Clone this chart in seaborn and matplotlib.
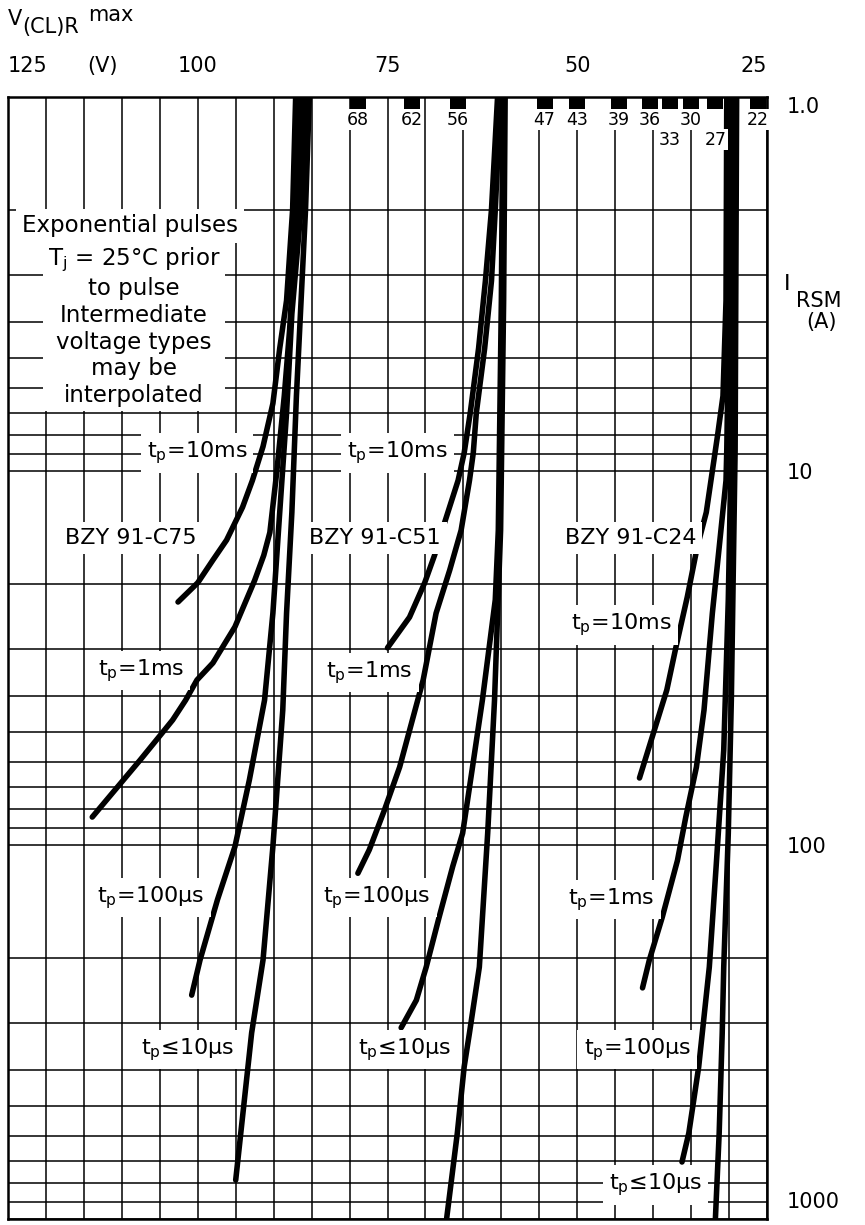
import numpy as np
import pandas as pd
import matplotlib
matplotlib.use("Agg")
import matplotlib.pyplot as plt
import seaborn as sns
from matplotlib.ticker import FixedLocator, FixedFormatter, LogLocator, NullFormatter
from matplotlib.transforms import ScaledTranslation

# ---------------- data (V(CL)R max in V, I_RSM in A) ----------------
# BZY91-C75
c75_10ms_v = [87.1, 87.5, 88.3, 89.2, 90.1, 91.4, 92.8, 94.1, 96.2, 98.0, 100.0, 102.6]
c75_10ms_i = [1.0, 2.0, 3.5, 4.7, 6.6, 8.6, 10.6, 12.5, 15.3, 17.3, 19.9, 22.4]
c75_1ms_v = [86.5, 87.0, 87.9, 88.6, 89.6, 90.5, 91.3, 92.5, 95.1, 98.0, 100.1, 101.6,
             103.3, 104.7, 107.6, 113.9]
c75_1ms_i = [1.0, 2.0, 4.2, 6.3, 10.1, 14.6, 16.8, 19.6, 26.1, 32.6, 36.2, 41.0,
             46.3, 50.2, 59.3, 84.2]
c75_100us_v = [85.9, 86.4, 87.6, 88.3, 89.2, 90.1, 91.2, 93.2, 95.1, 97.4, 99.7, 100.8]
c75_100us_i = [1.0, 2.0, 3.8, 7.0, 12.9, 24.0, 41.0, 67.0, 101, 140, 203, 252]
c75_10us_v = [85.3, 85.8, 87.0, 87.6, 88.3, 88.8, 90.1, 91.4, 92.9, 94.0, 95.0]
c75_10us_i = [1.0, 2.0, 6.3, 12.9, 24.0, 43.6, 101, 203, 318, 511, 787]

# BZY91-C51
c51_10ms_v = [60.5, 61.3, 62.1, 63.0, 64.1, 64.9, 65.7, 67.8, 68.8, 70.1, 72.1, 75.0]
c51_10ms_i = [1.0, 2.0, 3.1, 4.7, 7.0, 8.95, 10.6, 14.4, 16.8, 19.9, 24.6, 29.7]
c51_1ms_v = [60.1, 60.8, 61.3, 62.2, 63.3, 63.7, 64.2, 65.3, 66.8, 68.6, 70.3, 73.4,
             75.4, 77.4, 78.9]
c51_1ms_i = [1.0, 2.0, 3.1, 4.7, 7.0, 8.95, 10.6, 14.4, 18.4, 24.0, 36.2, 61.9,
             80.6, 103, 119]
c51_100us_v = [59.8, 60.0, 60.4, 60.8, 62.5, 63.8, 65.1, 66.4, 68.2, 69.9, 71.2, 73.2]
c51_100us_i = [1.0, 3.5, 14.4, 22.1, 41.0, 61.9, 93.0, 114, 156, 212, 260, 308]
c51_10us_v = [59.5, 59.7, 60.1, 60.9, 61.8, 62.9, 64.2, 64.9, 65.8, 67.2]
c51_10us_i = [1.0, 3.5, 14.4, 41.0, 93.0, 212, 318, 392, 589, 994]

# BZY91-C24
c24_10ms_v = [30.3, 30.4, 30.8, 31.5, 33.0, 34.2, 35.5, 37.0, 38.2, 41.8]
c24_10ms_i = [1.0, 3.5, 6.3, 8.0, 12.9, 16.0, 21.7, 29.6, 38.5, 66.2]
c24_1ms_v = [29.8, 30.0, 30.3, 30.4, 31.3, 32.2, 33.3, 34.3, 35.7, 36.8, 38.8, 40.5, 41.4]
c24_1ms_i = [1.0, 3.5, 8.8, 10.6, 16.0, 24.0, 43.6, 61.9, 84.2, 110, 156, 203, 241]
c24_100us_v = [29.3, 29.6, 30.1, 30.7, 31.7, 32.6, 34.0, 35.3, 36.2]
c24_100us_i = [1.0, 6.5, 22.1, 55.7, 114, 212, 392, 589, 704]
c24_10us_v = [29.0, 29.2, 29.7, 30.1, 30.7, 30.9, 31.3, 31.8]
c24_10us_i = [1.0, 8.8, 41.0, 93.0, 212, 318, 589, 1000]

# voltage-type markers along the top edge
type_names = ['68', '62', '56', '47', '43', '39', '36', '33', '30', '27', '22']
type_v = [78.9, 71.8, 65.7, 54.3, 50.0, 44.5, 40.4, 37.8, 35.0, 31.8, 26.2]

# tick labels
top_tick_v = [125, 112.5, 100, 75, 50, 25]
top_tick_labels = ['125', '(V)', '100', '75', '50', '25']
right_tick_i = [1, 10, 100, 1000]
right_tick_labels = ['1.0', '10', '100', '1000']
grid_v = list(range(25, 130, 5))

# ---------------- build long table ----------------
curves = [
    ('C75 10ms', c75_10ms_v, c75_10ms_i), ('C75 1ms', c75_1ms_v, c75_1ms_i),
    ('C75 100us', c75_100us_v, c75_100us_i), ('C75 10us', c75_10us_v, c75_10us_i),
    ('C51 10ms', c51_10ms_v, c51_10ms_i), ('C51 1ms', c51_1ms_v, c51_1ms_i),
    ('C51 100us', c51_100us_v, c51_100us_i), ('C51 10us', c51_10us_v, c51_10us_i),
    ('C24 10ms', c24_10ms_v, c24_10ms_i), ('C24 1ms', c24_1ms_v, c24_1ms_i),
    ('C24 100us', c24_100us_v, c24_100us_i), ('C24 10us', c24_10us_v, c24_10us_i),
]
df = pd.concat([pd.DataFrame({'V': v, 'I': i, 'curve': n}) for n, v, i in curves],
               ignore_index=True)

# ---------------- figure ----------------
sns.set_theme(style='white')
plt.rcParams['font.family'] = ['DejaVu Sans']
plt.rcParams['mathtext.default'] = 'regular'

W, H = 865, 1225
fig = plt.figure(figsize=(W / 100, H / 100), dpi=100)
ax = fig.add_axes([8 / W, 6 / H, 759 / W, 1122 / H])
ax.set_yscale('log')

sns.lineplot(data=df, x='V', y='I', units='curve', estimator=None, sort=False,
             color='black', linewidth=4.0, legend=False, ax=ax, zorder=3)

ax.set_xlim(125, 25)
ax.set_ylim(1000, 1)
ax.set_xlabel('')
ax.set_ylabel('')

# ticks
ax.xaxis.tick_top()
ax.xaxis.set_major_locator(FixedLocator(top_tick_v))
ax.xaxis.set_major_formatter(FixedFormatter(top_tick_labels))
ax.xaxis.set_minor_locator(FixedLocator(grid_v))
ax.xaxis.remove_overlapping_locs = False
ax.yaxis.tick_right()
ax.yaxis.set_major_locator(FixedLocator(right_tick_i))
ax.yaxis.set_major_formatter(FixedFormatter(right_tick_labels))
ax.yaxis.set_minor_locator(LogLocator(base=10, subs=np.arange(2, 10), numticks=20))
ax.yaxis.set_minor_formatter(NullFormatter())
ax.tick_params(axis='x', which='both', length=0, pad=15, labelsize=15,
               top=True, bottom=False, labeltop=True, labelbottom=False, colors='black')
ax.tick_params(axis='y', which='both', length=0, pad=14, labelsize=15,
               right=True, left=False, labelright=True, labelleft=False, colors='black')

xl = ax.get_xticklabels()
xl[0].set_ha('left')
xl[-1].set_ha('right')
yl = ax.get_yticklabels()
yl[0].set_va('top')
yl[-1].set_va('bottom')
yl[-1].set_transform(yl[-1].get_transform() +
                     ScaledTranslation(0, 7 / 100, fig.dpi_scale_trans))

# grid
ax.set_axisbelow(True)
ax.grid(True, which='minor', axis='x', color='black', linewidth=1.1)
ax.grid(False, which='major', axis='x')
ax.grid(True, which='both', axis='y', color='black', linewidth=1.1)
for s in ax.spines.values():
    s.set_color('black')
    s.set_linewidth(1.8)
    s.set_visible(True)

# type markers on the top edge
ax.bar(type_v, [0.075] * len(type_v), bottom=1.0, width=2.1, color='black',
       edgecolor='none', linewidth=0, align='center', zorder=4)
for name, v in zip(type_names, type_v):
    y = 1.30 if name in ('33', '27') else 1.15
    ax.text(v, y, name, ha='center', va='center', fontsize=12.5, color='black',
            bbox=dict(boxstyle='square,pad=0.08', fc='white', ec='none'), zorder=5)

# curve labels
box = dict(boxstyle='square,pad=0.28', fc='white', ec='none')
curve_labels = [
    (r'$t_p$=10ms', 100.1, 8.95), ('BZY 91-C75', 108.8, 15.1),
    (r'$t_p$=1ms', 107.5, 34.1), (r'$t_p$=100µs', 106.2, 138),
    (r'$t_p$≤10µs', 101.4, 353),
    (r'$t_p$=10ms', 73.7, 8.95), ('BZY 91-C51', 76.7, 15.1),
    (r'$t_p$=1ms', 77.4, 34.6), (r'$t_p$=100µs', 76.4, 138),
    (r'$t_p$≤10µs', 72.8, 353),
    ('BZY 91-C24', 43.0, 15.1), (r'$t_p$=10ms', 44.2, 25.8),
    (r'$t_p$=1ms', 45.5, 140), (r'$t_p$=100µs', 42.1, 353),
    (r'$t_p$≤10µs', 39.7, 811),
]
for txt, v, i in curve_labels:
    ax.text(v, i, txt, ha='center', va='center', fontsize=16, color='black',
            bbox=box, zorder=6)

ax.text(108.9, 2.21, 'Exponential pulses', ha='center', va='center', fontsize=16.5,
        color='black', bbox=dict(boxstyle='square,pad=0.25', fc='white', ec='none'),
        zorder=6)
ax.text(108.4, 4.1,
        '$T_j$ = 25°C prior\nto pulse\nIntermediate\nvoltage types\nmay be\ninterpolated',
        ha='center', va='center', multialignment='center', linespacing=1.2,
        fontsize=16.5, color='black',
        bbox=dict(boxstyle='square,pad=0.2', fc='white', ec='none'), zorder=6)

# axis titles
fig.text(8 / W, 1 - 25 / H, 'V', fontsize=15, va='baseline', color='black')
fig.text(22 / W, 1 - 33 / H, '(CL)R', fontsize=15, va='baseline', color='black')
fig.text(88 / W, 1 - 21 / H, 'max', fontsize=15, va='baseline', color='black')
fig.text(784 / W, 1 - 290 / H, 'I', fontsize=16, va='baseline', color='black')
fig.text(796 / W, 1 - 307 / H, 'RSM', fontsize=15, va='baseline', color='black')
fig.text(822 / W, 1 - 328 / H, '(A)', fontsize=15, ha='center', va='baseline', color='black')

fig.savefig('out.png', dpi=100)
